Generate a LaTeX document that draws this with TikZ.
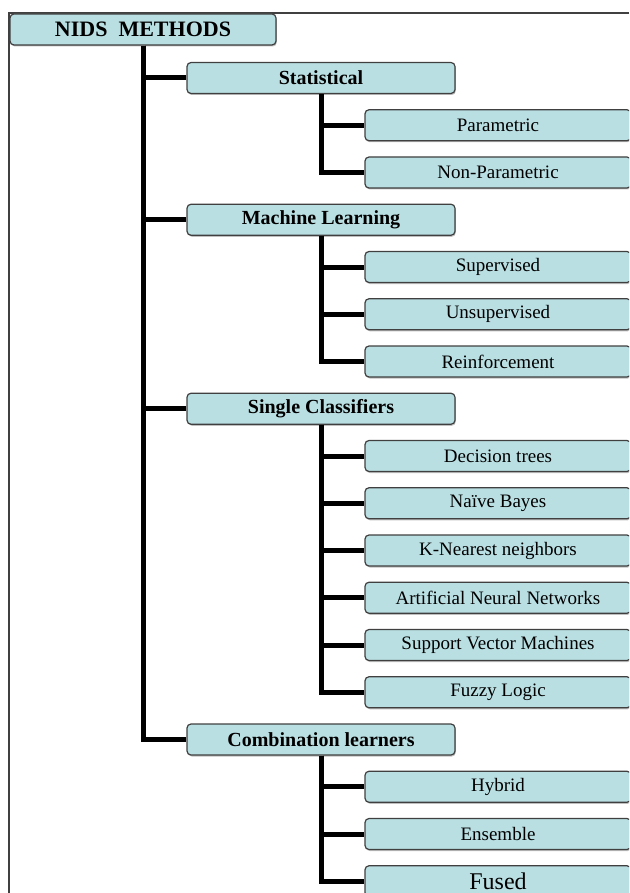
\documentclass[tikz,border=0pt]{standalone}
\usepackage{fontspec}
\setmainfont{Liberation Serif}
\usetikzlibrary{shadows}
\definecolor{boxfill}{RGB}{185,223,227}
\tikzset{
	box/.style={draw=black!75,fill=boxfill,rounded corners=4pt,line width=1.2pt,minimum height=31pt,inner sep=0pt,
		general shadow={fill=black!25,shadow xshift=0.8pt,shadow yshift=-1.5pt}},
	rootbox/.style={box,minimum width=266pt,font=\fontsize{22}{24}\selectfont\bfseries},
	groupbox/.style={box,minimum width=268pt,font=\fontsize{20}{22}\selectfont\bfseries},
	leafbox/.style={box,minimum width=266pt,font=\fontsize{19}{21}\selectfont},
	branch/.style={line width=5pt,line cap=butt},
	frame/.style={line width=1.5pt,draw=black!75}
}
\begin{document}
\begin{tikzpicture}[x=1pt,y=-1pt]
	\clip (0,0) rectangle (629,893);
	\draw[frame] (629,13)--(9,13)--(9,893);
	\node[rootbox] (nids) at (143,29.5) {NIDS\enspace METHODS};
	% groups
	\foreach \name/\row/\txt in {stat/1/Statistical,ml/4/Machine Learning,sc/8/Single Classifiers,cl/15/Combination learners}
	\node[groupbox] (\name) at (321,{78+47.25*(\row-1)}) {\txt};
	% methods
	\foreach \name/\row/\txt in {par/2/Parametric,nonpar/3/Non-Parametric,sup/5/Supervised,unsup/6/Unsupervised,reinf/7/Reinforcement,
		dtree/9/Decision trees,bayes/10/Naïve Bayes,knn/11/K-Nearest neighbors,ann/12/Artificial Neural Networks,
		svm/13/Support Vector Machines,fuzzy/14/Fuzzy Logic,hybrid/16/Hybrid,ensemble/17/Ensemble}
	\node[leafbox] (\name) at (498,{78+47.25*(\row-1)}) {\txt};
	\node[leafbox,font=\fontsize{24}{26}\selectfont] (fused) at (498,{78+47.25*17}) {Fused};
	\foreach \p/\c in {nids/stat,nids/ml,nids/sc,nids/cl,stat/par,stat/nonpar,ml/sup,ml/unsup,ml/reinf,
		sc/dtree,sc/bayes,sc/knn,sc/ann,sc/svm,sc/fuzzy,cl/hybrid,cl/ensemble,cl/fused}
	\draw[branch] (\p.south) |- (\c.west);
\end{tikzpicture}
\end{document}
